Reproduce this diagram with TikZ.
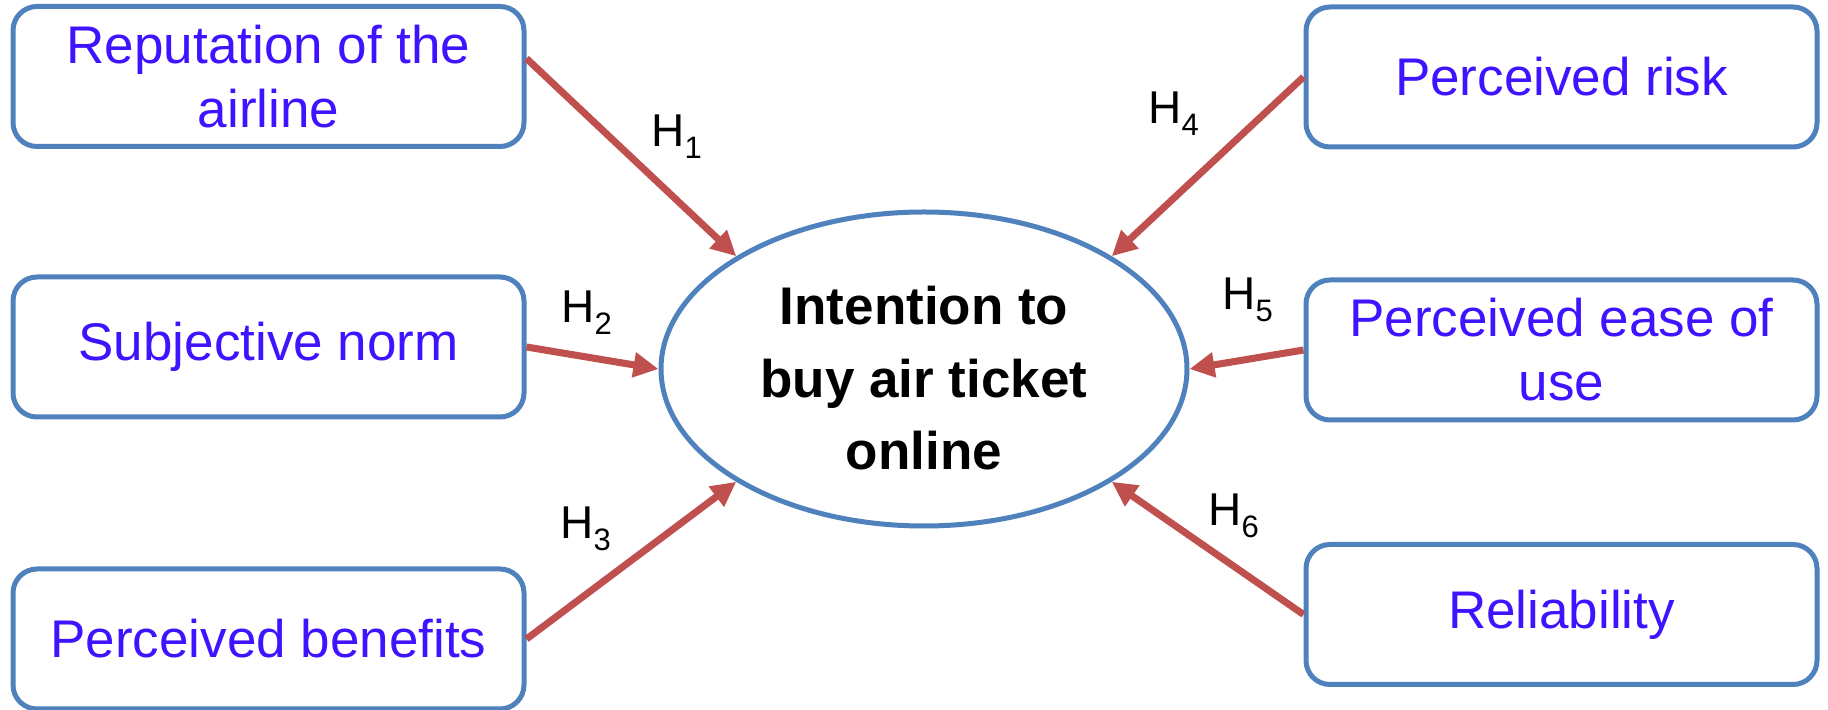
\documentclass[tikz,border=0pt]{standalone}
\usepackage{fontspec}
\setmainfont{Liberation Sans}
\usetikzlibrary{shapes.geometric,arrows.meta}
\definecolor{boxblue}{RGB}{79,129,189}
\definecolor{txtblue}{RGB}{63,19,255}
\definecolor{arrred}{RGB}{192,80,77}
\newcommand{\hyp}[1]{H\raisebox{-6pt}{\fontsize{15.5}{16}\selectfont #1}}
\begin{document}
\begin{tikzpicture}[x=0.5pt,y=-0.5pt,
    factor/.style={draw=boxblue,line width=2.5pt,rounded corners=12pt,fill=white,
      minimum width=255.5pt,minimum height=70pt,inner sep=0pt,align=center,
      text=txtblue,font=\fontsize{26.5}{32}\selectfont},
    hlabel/.style={anchor=base west,inner sep=0pt,font=\fontsize{23}{23}\selectfont},
    link/.style={draw=arrred,line width=3.5pt,-{Triangle[width=12pt,length=12.5pt]}}]
   \useasboundingbox (0,0) rectangle (1828,710);
   %fattori
   \node[factor] (rep) at (268.5,76.5) {Reputation of the\\airline};
   \node[factor] (norm) at (268.5,347) {Subjective norm};
   \node[factor] (ben) at (268.5,639) {Perceived benefits};
   \node[factor] (risk) at (1561.5,77) {Perceived risk};
   \node[factor] (ease) at (1561.5,350) {Perceived ease of\\use};
   \node[factor] (rel) at (1561.5,614.5) {Reliability};
   %intenzione
   \node[draw=boxblue,line width=2.5pt,ellipse,minimum width=263pt,minimum height=157pt,inner sep=0pt] (goal) at (924,369) {};
   \node[align=center,inner sep=0pt,font=\bfseries\fontsize{26.5}{36.25}\selectfont] (goaltext) at (924,378.5) {Intention to\\buy air ticket\\online};
   %ipotesi
   \draw[link] ([yshift=9pt]rep.east) -- (goal.149);
   \draw[link] (norm.east) -- (goal.180);
   \draw[link] (ben.east) -- (goal.211);
   \draw[link] (risk.west) -- (goal.31);
   \draw[link] (ease.west) -- (goal.0);
   \draw[link] (rel.west) -- (goal.329);
   \node[hlabel] (h1) at (651,147) {\hyp{1}};
   \node[hlabel] (h2) at (561,323) {\hyp{2}};
   \node[hlabel] (h3) at (560,539) {\hyp{3}};
   \node[hlabel] (h4) at (1148,124) {\hyp{4}};
   \node[hlabel] (h5) at (1222,310) {\hyp{5}};
   \node[hlabel] (h6) at (1208,526) {\hyp{6}};
\end{tikzpicture}
\end{document}
